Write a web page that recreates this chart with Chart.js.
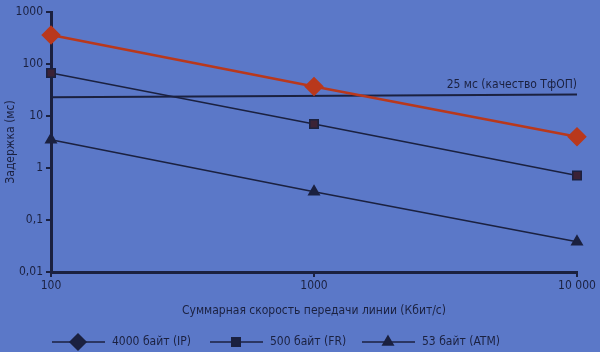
<!DOCTYPE html>
<html>
<head>
<meta charset="utf-8">
<script src="https://cdn.jsdelivr.net/npm/chart.js@4/dist/chart.umd.min.js"></script>
<style>
    html, body { margin: 0; padding: 0; background: #5b78c8; }
    #wrap { width: 600px; height: 352px; position: relative; }
</style>
</head>
<body>
<div id="wrap"><canvas id="chart" width="600" height="352"></canvas></div>
<script>
const speeds = [100, 1000, 10000];
const xTickLabels = ['100', '1000', '10 000'];
const yTickValues = [0.01, 0.1, 1, 10, 100, 1000];
const yTickLabels = ['0,01', '0,1', '1', '10', '100', '1000'];

const ipDelay = [360, 37, 4];
const frDelay = [67, 7, 0.72];
const atmDelay = [3.5, 0.35, 0.038];
const pstnLine = [23, 26];
const pstnLabel = '25 мс (качество ТфОП)';

const seriesNames = ['4000 байт (IP)', '500 байт (FR)', '53 байт (ATM)'];

const dark = '#1b2140';
const red = '#b9381c';
const font = '"DejaVu Sans Condensed", "Liberation Sans Narrow", sans-serif';

function pts(vals) {
    return vals.map((v, i) => ({ x: speeds[i], y: v }));
}

// подпись 25 мс и легенда снизу
const extras = {
    id: 'extras',
    afterDraw(chart) {
        const ctx = chart.ctx;
        const xs = chart.scales.x;
        const ys = chart.scales.y;
        ctx.save();
        ctx.fillStyle = dark;
        ctx.font = '12px ' + font;
        ctx.textAlign = 'right';
        ctx.textBaseline = 'bottom';
        ctx.fillText(pstnLabel, xs.getPixelForValue(speeds[2]), ys.getPixelForValue(pstnLine[1]) - 4);

        const styles = ['rectRot', 'rect', 'triangle'];
        const starts = [52, 210, 362];
        ctx.textAlign = 'left';
        ctx.textBaseline = 'middle';
        const y = 342;
        styles.forEach((s, i) => {
            const x0 = starts[i];
            ctx.strokeStyle = dark;
            ctx.lineWidth = 1.5;
            ctx.beginPath();
            ctx.moveTo(x0, y);
            ctx.lineTo(x0 + 53, y);
            ctx.stroke();
            ctx.fillStyle = dark;
            Chart.helpers.drawPoint(ctx, { pointStyle: s, radius: s === 'rectRot' ? 8 : 6, borderWidth: 1 }, x0 + 26, y);
            ctx.fillStyle = dark;
            ctx.fillText(seriesNames[i], x0 + 60, y);
        });
        ctx.restore();
    }
};

const ctx = document.getElementById('chart').getContext('2d');
const chart = new Chart(ctx, {
    type: 'line',
    data: {
        datasets: [{
            label: seriesNames[0],
            data: pts(ipDelay),
            borderColor: red,
            borderWidth: 2.5,
            pointStyle: 'rectRot',
            pointRadius: 8,
            pointBackgroundColor: red,
            pointBorderColor: red,
            clip: false
        }, {
            label: seriesNames[1],
            data: pts(frDelay),
            borderColor: dark,
            borderWidth: 1.5,
            pointStyle: 'rect',
            pointRadius: 6,
            pointBackgroundColor: '#3b2236',
            pointBorderColor: dark,
            clip: false
        }, {
            label: seriesNames[2],
            data: pts(atmDelay),
            borderColor: dark,
            borderWidth: 1.5,
            pointStyle: 'triangle',
            pointRadius: 6,
            pointBackgroundColor: dark,
            pointBorderColor: dark,
            clip: false
        }, {
            label: pstnLabel,
            data: [{ x: speeds[0], y: pstnLine[0] }, { x: speeds[2], y: pstnLine[1] }],
            borderColor: dark,
            borderWidth: 2,
            pointRadius: 0,
            clip: false
        }]
    },
    options: {
        responsive: false,
        animation: false,
        layout: { padding: { top: 12, right: 23, bottom: 30, left: 0 } },
        plugins: { legend: { display: false }, tooltip: { enabled: false } },
        scales: {
            x: {
                type: 'logarithmic',
                min: 100,
                max: 10000,
                afterBuildTicks: s => { s.ticks = speeds.map(v => ({ value: v })); },
                afterFit: s => { s.height = 50; },
                ticks: {
                    color: dark,
                    font: { family: font, size: 12 },
                    padding: 2,
                    maxRotation: 0,
                    callback: (v, i) => xTickLabels[i]
                },
                grid: { display: true, drawOnChartArea: false, color: dark, tickLength: 5, lineWidth: 2 },
                border: { color: dark, width: 3 },
                title: {
                    display: true,
                    text: 'Суммарная скорость передачи линии (Кбит/с)',
                    color: dark,
                    font: { family: font, size: 12 },
                    padding: { top: 6 }
                }
            },
            y: {
                type: 'logarithmic',
                min: 0.01,
                max: 1000,
                afterBuildTicks: s => { s.ticks = yTickValues.map(v => ({ value: v })); },
                afterFit: s => { s.width = 51; },
                ticks: {
                    color: dark,
                    font: { family: font, size: 12 },
                    padding: 3,
                    callback: (v, i) => yTickLabels[i]
                },
                grid: { display: true, drawOnChartArea: false, color: dark, tickLength: 5, lineWidth: 2 },
                border: { color: dark, width: 3 },
                title: {
                    display: true,
                    text: 'Задержка (мс)',
                    color: dark,
                    font: { family: font, size: 12 },
                    padding: { bottom: 0 }
                }
            }
        }
    },
    plugins: [extras]
});
</script>
</body>
</html>
